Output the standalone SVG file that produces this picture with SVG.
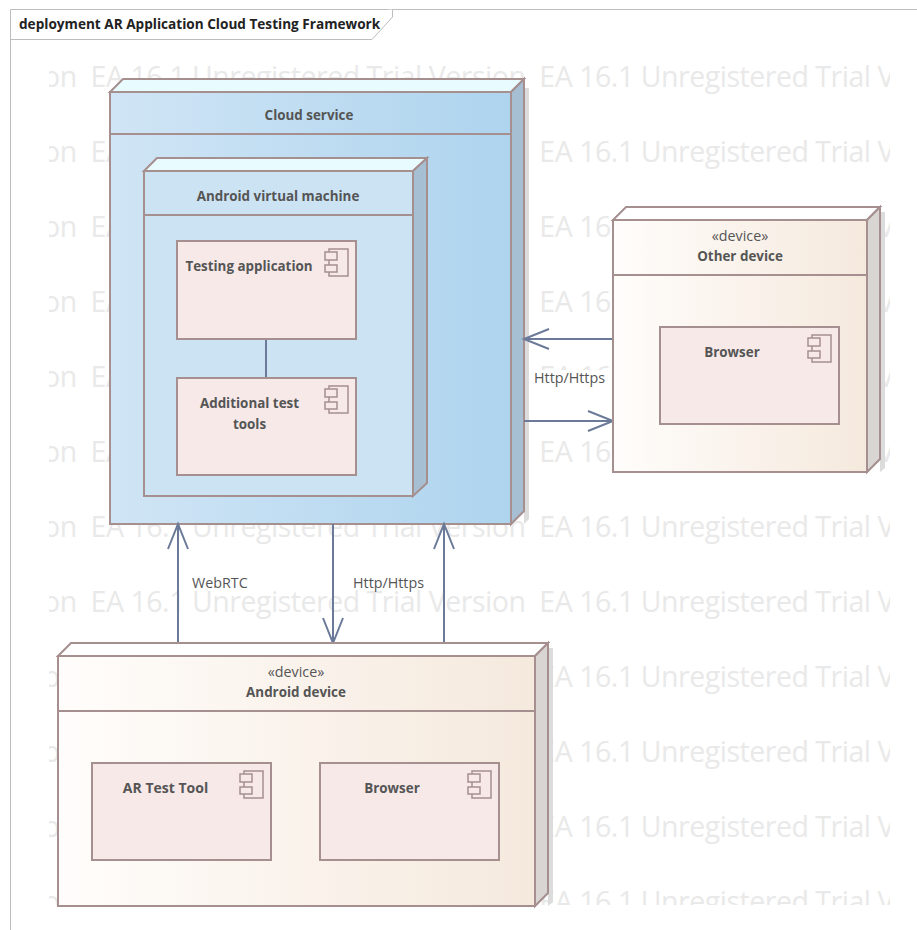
<svg xmlns="http://www.w3.org/2000/svg" width="917" height="930" viewBox="0 0 917 930">
<style>
text{font-family:"Open Sans","Noto Sans","Liberation Sans",sans-serif;fill:#555}
.wm{font-size:28.5px;fill:#e9e9e9;letter-spacing:-0.47px;white-space:pre}
.b{font-weight:700;font-size:13.4px;text-anchor:middle}
.r{font-size:14.3px}
.c{text-anchor:middle}
.ln{stroke:#a58f8f;stroke-width:2;fill:none}
.cmp{fill:#f7e9e8;stroke:#a58f8f;stroke-width:2}
.ic{fill:#f7e9e8;stroke:#a58f8f;stroke-width:1.5}
.blue{stroke:#a58f8f;stroke-width:2;fill:url(#gb)}
.sand{stroke:#a58f8f;stroke-width:2;fill:url(#gs)}
.sb{fill:#a6bfd3;stroke:#a58f8f;stroke-width:2}
.ss{fill:#d9d5d2;stroke:#a58f8f;stroke-width:2}
.tb{fill:#e8fbfe;stroke:#a58f8f;stroke-width:2}
.ts{fill:#fff;stroke:#a58f8f;stroke-width:2}
.sh{fill:#dcdcdc}
.cn{stroke:#6b7a99;stroke-width:2;fill:none}
</style>
<defs>
<linearGradient id="gb" x1="0" x2="1" y1="0" y2="0"><stop offset="0" stop-color="#d0e5f5"/><stop offset="1" stop-color="#aed4ee"/></linearGradient>
<linearGradient id="gs" x1="0" x2="1" y1="0" y2="0"><stop offset="0" stop-color="#fffdfb"/><stop offset="1" stop-color="#f5e9dd"/></linearGradient>
<clipPath id="wc"><rect x="49" y="60" width="841" height="845"/></clipPath>
<marker id="op" markerUnits="userSpaceOnUse" markerWidth="30" markerHeight="26" refX="26" refY="13" orient="auto"><path d="M1 3L26 13L1 23" fill="none" stroke="#6b7a99" stroke-width="2"/></marker>
<g id="icon"><rect class="ic" x="-14" y="0" width="19" height="27"/><rect class="ic" x="-18" y="3" width="12" height="8"/><rect class="ic" x="-18" y="16" width="12" height="7"/></g>
</defs>
<rect width="917" height="930" fill="#fff"/>
<g id="watermark" clip-path="url(#wc)">
<text class="wm" x="-20" y="87">Version  EA 16.1 Unregistered Trial Version  EA 16.1 Unregistered Trial Version</text>
<text class="wm" x="-20" y="162">Version  EA 16.1 Unregistered Trial Version  EA 16.1 Unregistered Trial Version</text>
<text class="wm" x="-20" y="237">Version  EA 16.1 Unregistered Trial Version  EA 16.1 Unregistered Trial Version</text>
<text class="wm" x="-20" y="312">Version  EA 16.1 Unregistered Trial Version  EA 16.1 Unregistered Trial Version</text>
<text class="wm" x="-20" y="387">Version  EA 16.1 Unregistered Trial Version  EA 16.1 Unregistered Trial Version</text>
<text class="wm" x="-20" y="462">Version  EA 16.1 Unregistered Trial Version  EA 16.1 Unregistered Trial Version</text>
<text class="wm" x="-20" y="537">Version  EA 16.1 Unregistered Trial Version  EA 16.1 Unregistered Trial Version</text>
<text class="wm" x="-20" y="612">Version  EA 16.1 Unregistered Trial Version  EA 16.1 Unregistered Trial Version</text>
<text class="wm" x="-20" y="687">Version  EA 16.1 Unregistered Trial Version  EA 16.1 Unregistered Trial Version</text>
<text class="wm" x="-20" y="762">Version  EA 16.1 Unregistered Trial Version  EA 16.1 Unregistered Trial Version</text>
<text class="wm" x="-20" y="837">Version  EA 16.1 Unregistered Trial Version  EA 16.1 Unregistered Trial Version</text>
<text class="wm" x="-20" y="912">Version  EA 16.1 Unregistered Trial Version  EA 16.1 Unregistered Trial Version</text>
</g>
<g id="frame">
<path d="M10.5 930V9.5H917" fill="none" stroke="#bdbdbd" stroke-width="1"/>
<path d="M10.5 39.5H372L392.5 17V9.5" fill="#fff" stroke="#bdbdbd" stroke-width="1"/>
<text x="19" y="29" style="font-weight:700;font-size:13.6px;fill:#222">deployment AR Application Cloud Testing Framework</text>
</g>
<g id="cloud-service">
<path class="sh" d="M529 88V519L524 524V88Z"/>
<path class="tb" d="M110 92L123 79H524L511 92Z"/>
<path class="sb" d="M511 92L524 79V511L511 524Z"/>
<rect class="blue" x="110" y="92" width="401" height="432"/>
<path class="ln" d="M110 134H511"/>
<text class="b" x="309" y="120">Cloud service</text>
</g>
<g id="android-vm">
<path class="tb" d="M144 171L157 158H427L413 171Z"/>
<path class="sb" d="M413 171L427 158V483L413 496Z"/>
<rect x="144" y="171" width="269" height="325" fill="#cce3f4" stroke="#a58f8f" stroke-width="2"/>
<path class="ln" d="M144 215H413"/>
<text class="b" x="278" y="201">Android virtual machine</text>
</g>
<g id="connectors">
<path class="cn" d="M266 339V378"/>
<path class="cn" d="M613 339H524" marker-end="url(#op)"/>
<path class="cn" d="M524 421H613" marker-end="url(#op)"/>
<path class="cn" d="M178 643V524" marker-end="url(#op)"/>
<path class="cn" d="M333 524V643" marker-end="url(#op)"/>
<path class="cn" d="M444 643V524" marker-end="url(#op)"/>
<rect x="533" y="370" width="78" height="18" fill="#fff"/>
<text class="r" x="534" y="383">Http/Https</text>
<text class="r" x="192" y="588">WebRTC</text>
<text class="r" x="353" y="588">Http/Https</text>
</g>
<g id="testing-application">
<rect class="cmp" x="177" y="241" width="179" height="98"/>
<use href="#icon" x="343" y="249"/>
<text class="b" x="249" y="271">Testing application</text>
</g>
<g id="additional-test-tools">
<rect class="cmp" x="177" y="378" width="179" height="97"/>
<use href="#icon" x="343" y="386"/>
<text class="b" x="249.5" y="408">Additional test</text>
<text class="b" x="249.5" y="429">tools</text>
</g>
<g id="other-device">
<path class="sh" d="M885 212V468L880 472V212Z"/>
<path class="ts" d="M613 220L626 207H880L867 220Z"/>
<path class="ss" d="M867 220L880 207V459L867 472Z"/>
<rect class="sand" x="613" y="220" width="254" height="252"/>
<path class="ln" d="M613 275H867"/>
<text class="r c" x="740" y="241">«device»</text>
<text class="b" x="740" y="261">Other device</text>
</g>
<g id="other-browser">
<rect class="cmp" x="660" y="327" width="179" height="97"/>
<use href="#icon" x="826" y="335"/>
<text class="b" x="732" y="357">Browser</text>
</g>
<g id="android-device">
<path class="sh" d="M553 648V902L548 906V648Z"/>
<path class="ts" d="M58 656L71 643H548L535 656Z"/>
<path class="ss" d="M535 656L548 643V893L535 906Z"/>
<rect class="sand" x="58" y="656" width="477" height="250"/>
<path class="ln" d="M58 711H535"/>
<text class="r c" x="296" y="677">«device»</text>
<text class="b" x="296" y="697">Android device</text>
</g>
<g id="ar-test-tool">
<rect class="cmp" x="92" y="763" width="179" height="97"/>
<use href="#icon" x="258" y="771"/>
<text class="b" x="165.5" y="793" style="font-size:14px">AR Test Tool</text>
</g>
<g id="android-browser">
<rect class="cmp" x="320" y="763" width="179" height="97"/>
<use href="#icon" x="486" y="771"/>
<text class="b" x="392" y="793">Browser</text>
</g>
</svg>
